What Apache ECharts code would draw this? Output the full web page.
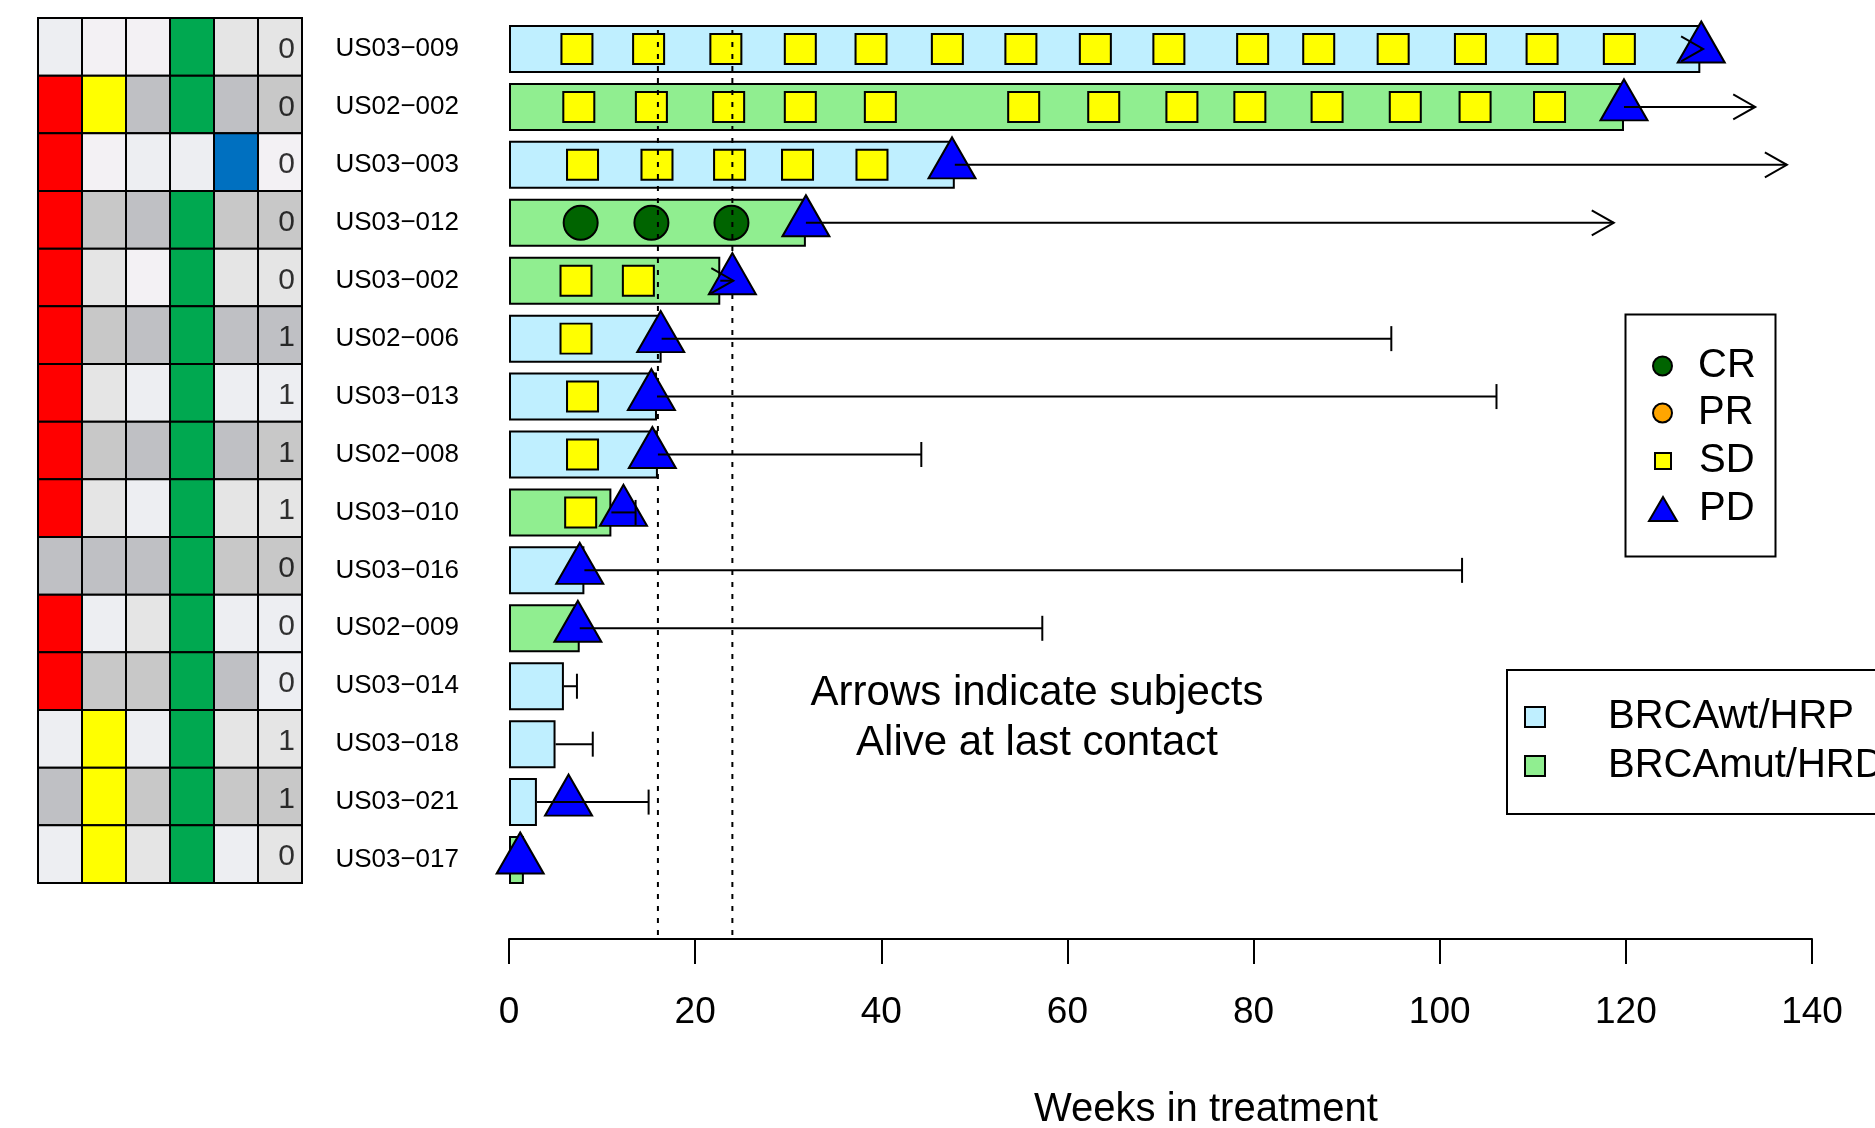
<!DOCTYPE html>
<html>
<head>
<meta charset="utf-8">
<script src="https://cdn.jsdelivr.net/npm/echarts@6/dist/echarts.min.js"></script>
<style>
  html, body { margin: 0; padding: 0; background: #fff; }
  #chart { width: 1875px; height: 1128px; }
</style>
</head>
<body>
<div id="chart"></div>
<script>
  // subjects, top to bottom
  const subjects = ['US03−009', 'US02−002', 'US03−003', 'US03−012', 'US03−002', 'US02−006', 'US03−013',
    'US02−008', 'US03−010', 'US03−016', 'US02−009', 'US03−014', 'US03−018', 'US03−021', 'US03−017']
  const cohort = ['wt', 'mut', 'wt', 'mut', 'mut', 'wt', 'wt', 'wt', 'mut', 'wt', 'mut', 'wt', 'wt', 'wt', 'mut']
  const weeksOnTreatment = [128, 119.8, 47.9, 31.9, 22.7, 16.4, 15.9, 16.0, 11.0, 8.1, 7.6, 5.9, 5.0, 3.0, 1.6]
  const pdWeek = [128.1, 119.8, 47.6, 31.9, 24.0, 16.3, 15.3, 15.4, 12.3, 7.6, 7.4, null, null, 6.4, 1.2]
  const lastContact = [128.3, 133.9, 137.3, 118.7, 24.1, 94.8, 106.1, 44.3, 13.6, 102.4, 57.3, 7.3, 9.0, 15.0, null]
  const aliveAtContact = [1, 1, 1, 1, 1, 0, 0, 0, 0, 0, 0, 0, 0, 0, 0]
  const sdWeeks = [
    [7.3, 15.0, 23.3, 31.3, 38.9, 47.1, 55.0, 63.0, 70.9, 79.9, 87.0, 95.0, 103.3, 111.0, 119.3],
    [7.5, 15.3, 23.6, 31.3, 39.9, 55.3, 63.9, 72.3, 79.6, 87.9, 96.3, 103.8, 111.8],
    [7.9, 15.9, 23.7, 31.0, 39.0],
    [],
    [7.2, 13.9],
    [7.2], [7.9], [7.9], [7.7],
    [], [], [], [], [], []
  ]
  const crWeeks = [[], [], [], [7.7, 15.3, 23.9], [], [], [], [], [], [], [], [], [], [], []]
  const prWeeks = []
  const refWeeks = [16, 24]
  // baseline characteristics table (one letter per cell) and last column score
  const tableCodes = ['ABBGCC', 'RYEGED', 'RBAALB', 'RDEGDD', 'RCBGCC', 'RDEGEE', 'RCAGAA', 'RDEGED',
    'RCAGCC', 'EEEGDD', 'RACGAA', 'RDDGEA', 'AYAGCC', 'EYDGDD', 'AYCGAC']
  const tableScores = [0, 0, 0, 0, 0, 1, 1, 1, 1, 0, 0, 0, 1, 1, 0]

  const cellColors = {
    A: '#EDEEF2', B: '#F3F1F4', C: '#E5E5E5', D: '#C8C8C8', E: '#BFC0C4',
    R: '#FF0000', Y: '#FFFF00', G: '#00A850', L: '#0070C0'
  }
  const FONT = '"Liberation Sans", Arial, Helvetica, sans-serif'

  const chart = echarts.init(document.getElementById('chart'))

  const sdData = sdWeeks.flatMap((ws, i) => ws.map(w => [w, i]))
  const crData = crWeeks.flatMap((ws, i) => ws.map(w => [w, i]))
  const pdData = pdWeek.map((w, i) => [w, i]).filter(d => d[0] !== null)
  const survData = lastContact.map((w, i) => [i, weeksOnTreatment[i], w, aliveAtContact[i]]).filter(d => d[2] !== null)
  const cellData = []
  tableCodes.forEach((row, r) => {
    for (let c = 0; c < row.length; c++) cellData.push([c, r])
  })
  const scoreData = tableScores.map((v, i) => [5, i, v])

  const legendText = { fontSize: 40, color: '#000', fontFamily: FONT }

  chart.setOption({
    animation: false,
    textStyle: { fontFamily: FONT },
    grid: [
      { left: 509, top: 20, width: 1303, height: 869 },
      { left: 38, top: 18, width: 264, height: 865 }
    ],
    xAxis: [{
      type: 'value',
      gridIndex: 0,
      min: 0,
      max: 140,
      interval: 20,
      offset: 50,
      axisLine: { show: true, onZero: false, lineStyle: { color: '#000', width: 2 } },
      axisTick: { show: true, length: 25, lineStyle: { color: '#000', width: 2 } },
      axisLabel: { fontSize: 37, color: '#000', margin: 55, fontFamily: FONT },
      splitLine: { show: false }
    }, {
      type: 'category',
      gridIndex: 1,
      data: [0, 1, 2, 3, 4, 5],
      show: false
    }],
    yAxis: [{
      type: 'category',
      gridIndex: 0,
      data: subjects,
      inverse: true,
      axisLine: { show: false },
      axisTick: { show: false },
      axisLabel: { fontSize: 26, color: '#000', margin: 50, fontFamily: FONT }
    }, {
      type: 'category',
      gridIndex: 1,
      data: subjects,
      inverse: true,
      show: false
    }],
    legend: [
      { data: ['CR'], left: 1652, top: 346, padding: 0, itemWidth: 19, itemHeight: 19, selectedMode: false,
        textStyle: Object.assign({ padding: [0, 0, 0, 21] }, legendText) },
      { data: ['PR'], left: 1652, top: 393, padding: 0, itemWidth: 19, itemHeight: 19, selectedMode: false,
        textStyle: Object.assign({ padding: [0, 0, 0, 21] }, legendText) },
      { data: ['SD'], left: 1654, top: 441, padding: 0, itemWidth: 16, itemHeight: 16, selectedMode: false,
        textStyle: Object.assign({ padding: [0, 0, 0, 23] }, legendText) },
      { data: ['PD'], left: 1648, top: 489, padding: 0, itemWidth: 28, itemHeight: 24, selectedMode: false,
        textStyle: Object.assign({ padding: [0, 0, 0, 17] }, legendText) },
      { data: [{ name: 'BRCAwt/HRP', icon: 'rect' }, { name: 'BRCAmut/HRD', icon: 'rect' }],
        orient: 'vertical', left: 1507, top: 670, padding: [27, 40, 28, 17],
        itemWidth: 20, itemHeight: 20, itemGap: 9, selectedMode: false,
        borderColor: '#000', borderWidth: 2,
        textStyle: Object.assign({ padding: [0, 0, 0, 58] }, legendText) }
    ],
    graphic: [
      { type: 'rect', left: 1623, top: 312, shape: { width: 150, height: 242 },
        style: { fill: 'none', stroke: '#000', lineWidth: 2 } },
      { type: 'text', x: 1037, y: 718,
        style: { text: 'Arrows indicate subjects\nAlive at last contact', fontSize: 42, fontFamily: FONT,
          fill: '#000', lineHeight: 50, align: 'center', textAlign: 'center', verticalAlign: 'middle', textVerticalAlign: 'middle' } },
      { type: 'text', x: 1206, y: 1110,
        style: { text: 'Weeks in treatment', fontSize: 40, fontFamily: FONT, fill: '#000',
          align: 'center', textAlign: 'center', verticalAlign: 'middle', textVerticalAlign: 'middle' } }
    ],
    series: [{
      name: 'BRCAwt/HRP',
      type: 'bar',
      z: 1,
      barWidth: 48,
      barGap: '-100%',
      data: weeksOnTreatment.map((w, i) => cohort[i] === 'wt' ? w : '-'),
      itemStyle: { color: '#BFEFFF', borderColor: '#000', borderWidth: 2 }
    }, {
      name: 'BRCAmut/HRD',
      type: 'bar',
      z: 1,
      barWidth: 48,
      barGap: '-100%',
      data: weeksOnTreatment.map((w, i) => cohort[i] === 'mut' ? w : '-'),
      itemStyle: { color: '#90EE90', borderColor: '#000', borderWidth: 2 }
    }, {
      name: 'SD',
      type: 'scatter',
      z: 3,
      symbol: 'rect',
      symbolSize: [31, 30],
      data: sdData,
      itemStyle: { color: '#FFFF00', borderColor: '#000', borderWidth: 2, opacity: 1 }
    }, {
      name: 'CR',
      type: 'scatter',
      z: 3,
      symbol: 'circle',
      symbolSize: 34,
      data: crData,
      itemStyle: { color: '#006400', borderColor: '#000', borderWidth: 2, opacity: 1 }
    }, {
      name: 'PR',
      type: 'scatter',
      z: 3,
      symbol: 'circle',
      symbolSize: 34,
      data: prWeeks,
      itemStyle: { color: '#FFA500', borderColor: '#000', borderWidth: 2, opacity: 1 }
    }, {
      // dotted reference lines at weeks 16 and 24
      type: 'custom',
      z: 4,
      silent: true,
      data: refWeeks.map(w => [w, 0]),
      encode: { x: 0, y: 1 },
      renderItem: (params, api) => {
        const x = api.coord([api.value(0), 0])[0]
        const cs = params.coordSys
        return {
          type: 'line',
          shape: { x1: x, y1: cs.y + 10, x2: x, y2: cs.y + cs.height + 50 },
          style: { stroke: '#000', lineWidth: 2, lineDash: [5, 7] }
        }
      }
    }, {
      name: 'PD',
      type: 'scatter',
      z: 5,
      symbol: 'triangle',
      symbolSize: [47, 41],
      symbolOffset: [0, -7],
      data: pdData,
      itemStyle: { color: '#0000FF', borderColor: '#000', borderWidth: 2, opacity: 1 }
    }, {
      // follow-up lines: arrow = alive, bar cap = not
      type: 'custom',
      z: 6,
      silent: true,
      data: survData,
      encode: { y: 0, x: [1, 2] },
      renderItem: (params, api) => {
        const row = api.value(0)
        const p0 = api.coord([api.value(1), row])
        const p1 = api.coord([api.value(2), row])
        const st = { stroke: '#000', lineWidth: 2, fill: null }
        const end = api.value(3)
          ? { type: 'polyline', shape: { points: [[p1[0] - 22, p1[1] - 12.5], [p1[0], p1[1]], [p1[0] - 22, p1[1] + 12.5]] }, style: st }
          : { type: 'line', shape: { x1: p1[0], y1: p1[1] - 12.5, x2: p1[0], y2: p1[1] + 12.5 }, style: st }
        return {
          type: 'group',
          children: [
            { type: 'line', shape: { x1: p0[0], y1: p0[1], x2: p1[0], y2: p1[1] }, style: st },
            end
          ]
        }
      }
    }, {
      // left-hand characteristics table
      type: 'custom',
      xAxisIndex: 1,
      yAxisIndex: 1,
      silent: true,
      data: cellData,
      encode: { x: 0, y: 1 },
      renderItem: (params, api) => {
        const c = api.value(0)
        const r = api.value(1)
        const p = api.coord([c, r])
        const s = api.size([1, 1])
        return {
          type: 'rect',
          shape: { x: p[0] - s[0] / 2, y: p[1] - s[1] / 2, width: s[0], height: s[1] },
          style: { fill: cellColors[tableCodes[r][c]], stroke: '#000', lineWidth: 2 }
        }
      }
    }, {
      // score numbers in the last table column
      type: 'scatter',
      xAxisIndex: 1,
      yAxisIndex: 1,
      z: 3,
      silent: true,
      symbolSize: 1,
      itemStyle: { color: 'rgba(0,0,0,0)' },
      data: scoreData,
      label: {
        show: true,
        position: 'inside',
        align: 'right',
        verticalAlign: 'middle',
        offset: [15, 3],
        fontSize: 30,
        color: '#000',
        textBorderWidth: 0,
        fontFamily: FONT,
        formatter: p => String(p.value[2])
      }
    }]
  })
</script>
</body>
</html>
